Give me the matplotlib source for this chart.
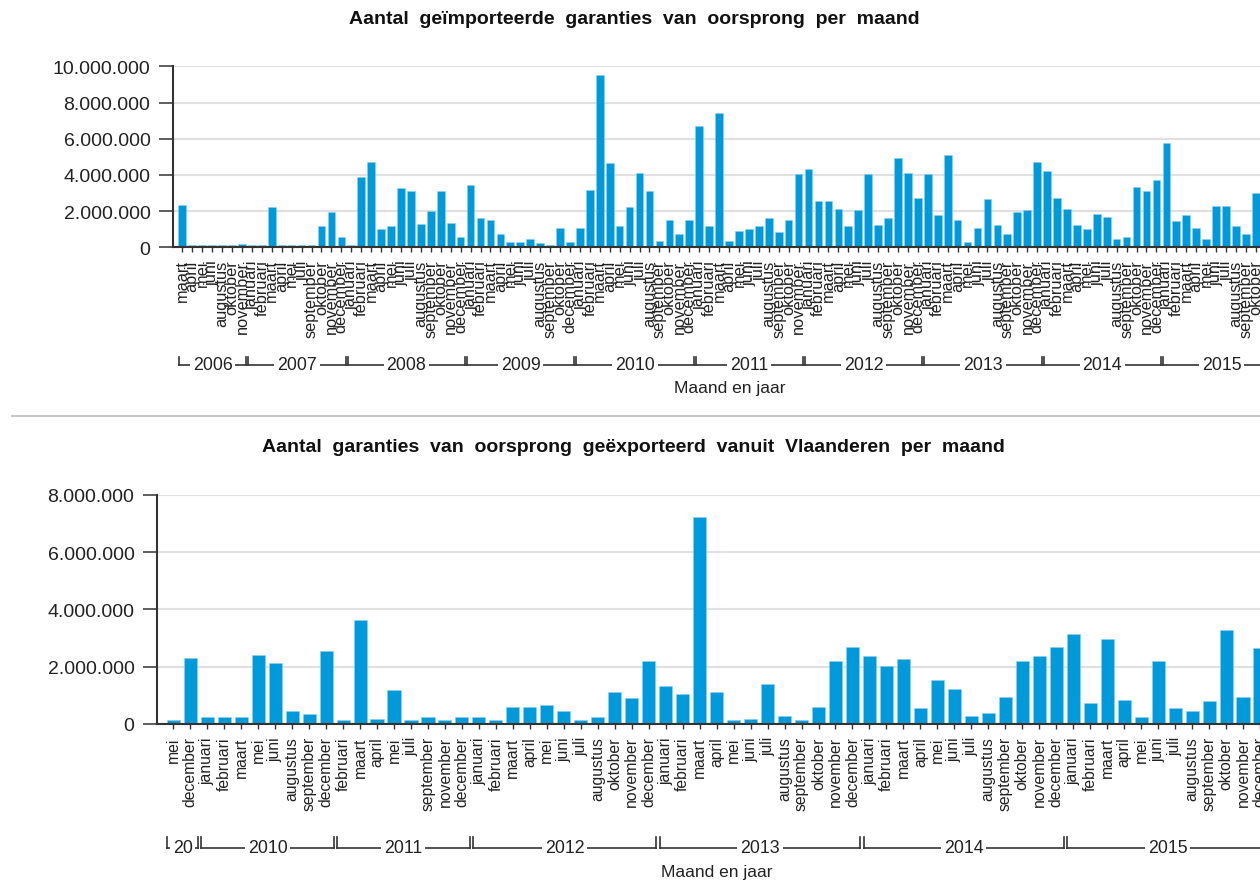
import numpy as np
import matplotlib.pyplot as plt
from matplotlib.lines import Line2D
from matplotlib.ticker import FuncFormatter

plt.rcParams['font.family'] = ['Liberation Sans', 'DejaVu Sans']

# --- geïmporteerde garanties van oorsprong (miljoen) ---
import_years = [2006, 2007, 2008, 2009, 2010, 2011, 2012, 2013, 2014, 2015]
import_year_counts = [7, 10, 12, 11, 12, 11, 12, 12, 12, 12]
all_months = ["januari", "februari", "maart", "april", "mei", "juni", "juli",
              "augustus", "september", "oktober", "november", "december"]
import_months = (
    ["maart", "april", "mei", "juni", "augustus", "oktober", "november"]
    + ["januari", "februari", "maart", "april", "mei", "juli",
       "september", "oktober", "november", "december"]
    + all_months
    + ["januari", "februari", "maart", "april", "mei", "juni", "juli",
       "augustus", "september", "oktober", "december"]
    + all_months
    + all_months[:11]
    + all_months
    + all_months
    + all_months
    + all_months[:10]
)
import_values = [
    2.36, 0.1, 0.1, 0.1, 0.1, 0.1, 0.2,
    0.1, 0.1, 2.2, 0.1, 0.1, 0.1, 0.1, 1.16, 1.95, 0.55,
    0.1, 3.87, 4.73, 1.0, 1.16, 3.26, 3.09, 1.27, 2.03, 3.09, 1.34, 0.55,
    3.43, 1.6, 1.53, 0.74, 0.3, 0.3, 0.48, 0.22, 0.13, 1.09, 0.3,
    1.09, 3.17, 9.52, 4.64, 1.16, 2.21, 4.12, 3.09, 0.37, 1.53, 0.74, 1.53,
    6.72, 1.16, 7.42, 0.37, 0.9, 1.0, 1.16, 1.6, 0.83, 1.53, 4.03,
    4.31, 2.56, 2.56, 2.14, 1.16, 2.04, 4.03, 1.25, 1.6, 4.92, 4.12, 2.74,
    4.03, 1.79, 5.08, 1.53, 0.3, 1.09, 2.65, 1.25, 0.74, 1.95, 2.04, 4.73,
    4.22, 2.74, 2.14, 1.25, 1.0, 1.86, 1.69, 0.48, 0.55, 3.35, 3.09, 3.7,
    5.78, 1.44, 1.79, 1.09, 0.48, 2.3, 2.3, 1.16, 0.74, 3.0,
]

# --- geëxporteerde garanties vanuit Vlaanderen (miljoen) ---
export_years = [2009, 2010, 2011, 2012, 2013, 2014, 2015]
export_year_counts = [2, 8, 8, 11, 12, 12, 12]
export_months = (
    ["mei", "december"]
    + ["januari", "februari", "maart", "mei", "juni", "augustus",
       "september", "december"]
    + ["februari", "maart", "april", "mei", "juli", "september",
       "november", "december"]
    + ["januari", "februari", "maart", "april", "mei", "juni", "juli",
       "augustus", "oktober", "november", "december"]
    + all_months
    + all_months
    + all_months
)
export_values = [
    0.13, 2.32,
    0.23, 0.23, 0.23, 2.42, 2.14, 0.45, 0.34, 2.54,
    0.13, 3.63, 0.17, 1.17, 0.13, 0.23, 0.13, 0.23,
    0.23, 0.13, 0.61, 0.61, 0.67, 0.45, 0.13, 0.23, 1.11, 0.89, 2.2,
    1.33, 1.06, 7.23, 1.11, 0.13, 0.17, 1.39, 0.29, 0.13, 0.61, 2.2, 2.7,
    2.37, 2.04, 2.26, 0.57, 1.55, 1.22, 0.29, 0.39, 0.95, 2.2, 2.37, 2.7,
    3.13, 0.73, 2.97, 0.83, 0.23, 2.2, 0.57, 0.45, 0.79, 3.29, 0.95, 2.64,
]

title_top = "Aantal geïmporteerde garanties van oorsprong per maand"
title_bottom = "Aantal garanties van oorsprong geëxporteerd vanuit Vlaanderen per maand"

BLUE = "#0099d9"
DARK = "#333333"
W, H = 1260, 895


def thousands(v, pos):
    return f"{int(round(v)):,}".replace(",", ".")


def draw_panel(ax, values, months, years, counts, ymax, ystep, xlim,
               line_y, tick_top, month_size):
    x = np.arange(1, len(values) + 1)
    ax.bar(x, np.array(values) * 1e6, width=0.77, color=BLUE,
           edgecolor="#8fd0ee", linewidth=0.4, zorder=2)
    ax.set_xlim(*xlim)
    ax.set_ylim(0, ymax)
    ax.set_yticks(np.arange(0, ymax + 1, ystep))
    ax.yaxis.set_major_formatter(FuncFormatter(thousands))
    ax.set_xticks(x)
    ax.set_xticklabels(months, rotation=90, fontsize=month_size, color="#222")
    ax.tick_params(axis="y", length=10, width=1.1, pad=6, labelsize=14,
                   colors=DARK, labelcolor="#222")
    ax.tick_params(axis="x", length=3.8, width=1.0, pad=5, colors=DARK,
                   labelcolor="#222")
    ax.yaxis.grid(True, color="#e0e0e0", linewidth=1.5)
    ax.set_axisbelow(True)
    for s in ["top", "right"]:
        ax.spines[s].set_visible(False)
    for s in ["left", "bottom"]:
        ax.spines[s].set_color(DARK)
        ax.spines[s].set_linewidth(1.5)

    # year brackets below the month labels
    trans = ax.get_xaxis_transform()
    start = 1
    for year, n in zip(years, counts):
        left = start - 0.35
        right = start + n - 1 + 0.45
        kw = dict(transform=trans, clip_on=False, color=DARK, lw=1.2)
        ax.add_line(Line2D([left, left], [tick_top, line_y], **kw))
        ax.add_line(Line2D([right, right], [tick_top, line_y], **kw))
        ax.add_line(Line2D([left, right], [line_y, line_y], **kw))
        label = str(year) if n > 2 else str(year)[:2]
        ax.text((left + right) / 2, line_y, label, transform=trans,
                ha="center", va="center", fontsize=12.8, color="#222",
                clip_on=False, zorder=4,
                bbox=dict(facecolor="white", edgecolor="none", pad=2))
        start += n


fig = plt.figure(figsize=(W / 100, H / 100), dpi=100)

ax1 = fig.add_axes([172.7 / W, 1 - 248.3 / H, 1 - 172.7 / W, 181.0 / H])
draw_panel(ax1, import_values, import_months, import_years,
           import_year_counts, 10e6, 2e6, (0.034, 109.42),
           line_y=(248.3 - 366) / 181.0, tick_top=(248.3 - 358) / 181.0,
           month_size=11.8)

ax2 = fig.add_axes([156.7 / W, 1 - 725 / H, 1 - 156.7 / W, 229.3 / H])
draw_panel(ax2, export_values, export_months, export_years,
           export_year_counts, 8e6, 2e6, (0.024, 64.9),
           line_y=(725 - 849) / 229.3, tick_top=(725 - 838) / 229.3,
           month_size=11.3)

# titles use wider word spacing like the original
fig.text(634 / W, 1 - 20 / H, title_top.replace(" ", "  "),
         ha="center", va="center", fontsize=14, fontweight="bold",
         color="#111")
fig.text(633 / W, 1 - 448 / H, title_bottom.replace(" ", "  "),
         ha="center", va="center", fontsize=14, fontweight="bold",
         color="#111")
fig.text(730 / W, 1 - 389 / H, "Maand en jaar", ha="center", va="center",
         fontsize=12.5, color="#222")
fig.text(717 / W, 1 - 873 / H, "Maand en jaar", ha="center", va="center",
         fontsize=12.5, color="#222")

fig.add_artist(Line2D([12 / W, 1.0], [1 - 417.3 / H, 1 - 417.3 / H],
                      color="#c4c4c4", lw=1.3))

fig.savefig("out.png", dpi=100)
